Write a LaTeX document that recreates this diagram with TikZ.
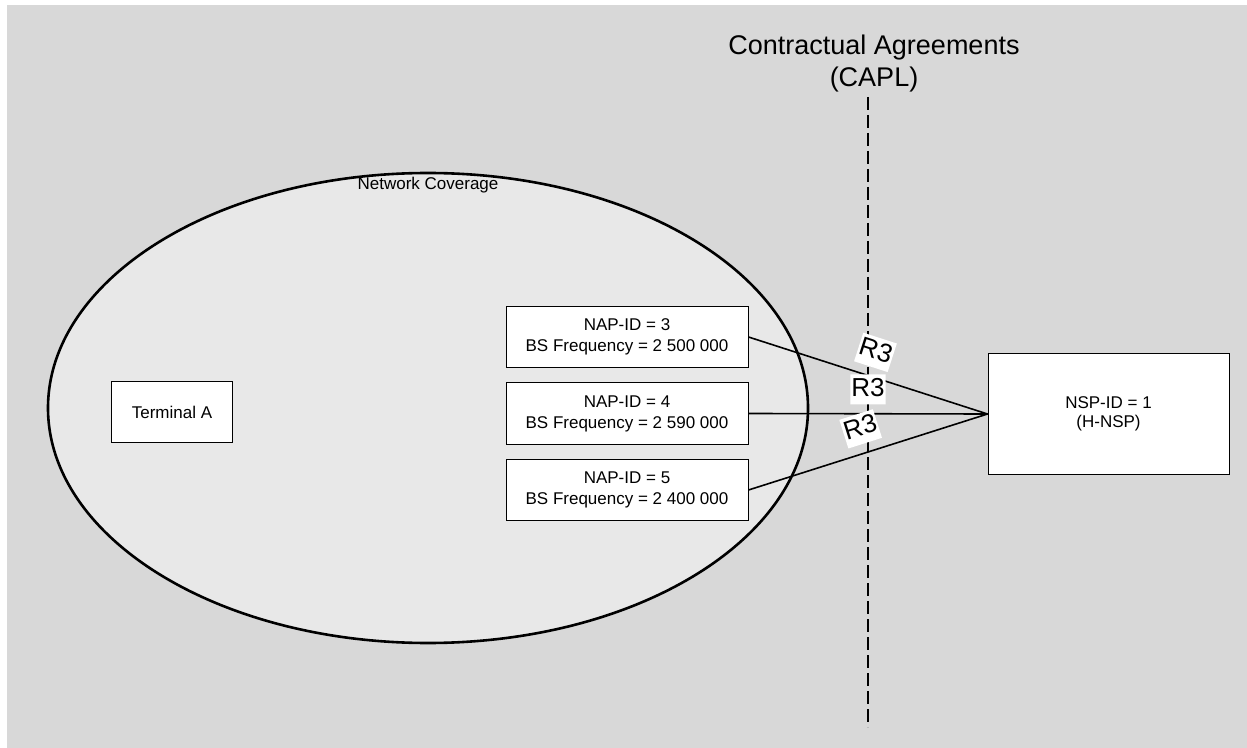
\documentclass[tikz,border=0pt]{standalone}
\usepackage{fontspec}
\setmainfont{Liberation Sans}
\usepackage{xcolor}
\usetikzlibrary{positioning, shapes.geometric}

\definecolor{bggray}{RGB}{216,216,216}
\definecolor{covgray}{RGB}{232,232,232}

\begin{document}
\begin{tikzpicture}[
  x=0.5pt, y=-0.5pt,
  % Base style for boxes
  basebox/.style={draw, fill=white, line width=0.5pt, inner sep=1pt,
    align=center, font=\fontsize{8.5}{10.5}\selectfont},
  % Styles inheriting from basebox
  napbox/.style={basebox, minimum width=121pt, minimum height=30.5pt},
  termbox/.style={basebox, minimum width=60.5pt, minimum height=30pt},
  nspbox/.style={basebox, minimum width=120.5pt, minimum height=60pt,
    font=\fontsize{8.5}{9.8}\selectfont},
  coverage/.style={ellipse, draw, line width=1.3pt, fill=covgray,
    minimum width=380pt, minimum height=235pt, inner sep=0pt},
  link/.style={line width=0.8pt},
  reflabel/.style={fill=white, inner xsep=0.5pt, inner ysep=0.5pt,
    text height=10.5pt, text depth=3.5pt, font=\fontsize{13}{15}\selectfont},
  border/.style={line width=1.25pt, dash pattern=on 6.5pt off 2.5pt}
]

  % Page and background
  \useasboundingbox (0,0) rectangle (1247,748);
  \fill[bggray] (7,5) rectangle (1247,748);

  % Network coverage area
  \node[coverage] (cov) at (428,408) {};
  \node[anchor=north, inner sep=2.5pt, font=\fontsize{8.5}{10}\selectfont] (covlabel) at (cov.north) {Network Coverage};

  % Contractual border
  \node[align=center, font=\fontsize{13.5}{16}\selectfont] (capl) at (874,64) {Contractual Agreements\\(CAPL)};
  \coordinate (capltop) at (868,97);
  \coordinate (caplbot) at (868,727);
  \draw[border] (capltop) -- (caplbot);

  % Terminal
  \node[termbox] (term) at (172,412) {Terminal A};

  % Access points
  \node[napbox] (nap3) at (627,337) {NAP-ID = 3\\BS Frequency = 2 500 000};
  \node[napbox, below=7.25pt of nap3] (nap4) {NAP-ID = 4\\BS Frequency = 2 590 000};
  \node[napbox, below=7.25pt of nap4] (nap5) {NAP-ID = 5\\BS Frequency = 2 400 000};

  % Service provider
  \node[nspbox] (nsp) at (1108.5,414) {NSP-ID = 1\\(H-NSP)};

  % R3 links
  \draw[link] (nap3.east) -- node[reflabel, sloped, above=4.25pt] (r3a) {R3} (nsp.west);
  \draw[link] (nap4.east) -- node[reflabel, sloped, above=4.25pt] (r3b) {R3} (nsp.west);
  \draw[link] (nap5.east) -- node[reflabel, sloped, above=4.25pt] (r3c) {R3} (nsp.west);

\end{tikzpicture}
\end{document}
